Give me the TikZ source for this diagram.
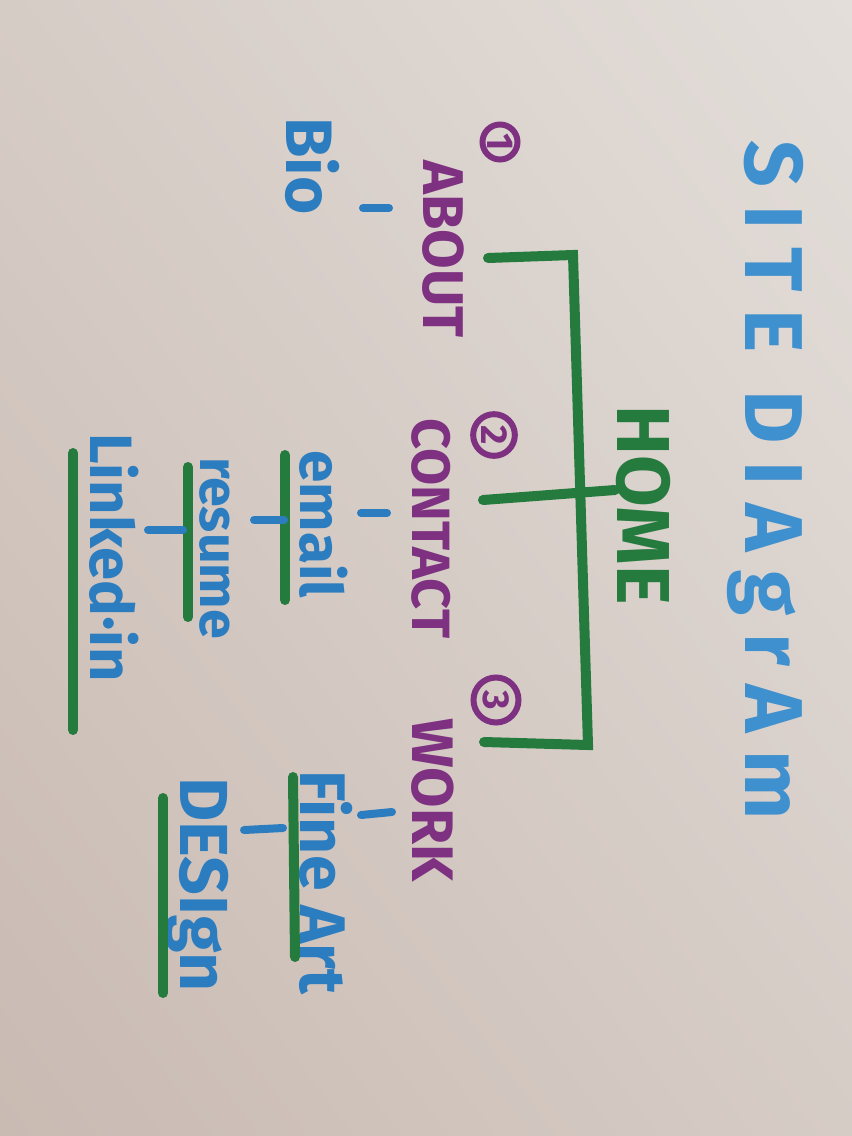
\documentclass[tikz,border=0pt]{standalone}
\usepackage{fontspec}
\setmainfont{Fira Sans}
\usetikzlibrary{calc}
\usetikzlibrary{shadings}
\definecolor{paperlt}{HTML}{E3DEDA}
\definecolor{papermd}{HTML}{D6CCC6}
\definecolor{paperdk}{HTML}{C9BAB2}
\definecolor{titleblue}{HTML}{3F90CE}
\definecolor{subblue}{HTML}{2C7DC0}
\definecolor{pagepurple}{HTML}{7D3180}
\definecolor{treegreen}{HTML}{257A3E}
\newcommand{\fsz}[1]{\fontsize{#1}{#1}\selectfont\bfseries}

\begin{document}
\begin{tikzpicture}[
    x=0.3mm, y=-0.3mm,
    handtext/.style={rotate=-90, anchor=base west, inner sep=0pt},
    title text/.style={handtext, color=titleblue},
    page text/.style={handtext, color=pagepurple},
    sub text/.style={handtext, color=subblue},
    numring/.style={circle, draw=pagepurple, line width=1.8mm, text=pagepurple,
        rotate=-90, inner sep=0pt, font=\fsz{32}},
    tree line/.style={treegreen, line width=3mm, line cap=round},
    under line/.style={treegreen, line width=3mm, line cap=round},
    tick line/.style={subblue, line width=2.4mm, line cap=round}
    ]

    % paper
    \shade[upper left=papermd, upper right=paperlt, lower left=paperdk, lower right=papermd]
        (0,0) rectangle (852,1136);
    \useasboundingbox (0,0) rectangle (852,1136);

    % title and root
    \node[title text, font=\fsz{70}\addfontfeature{LetterSpace=22}] (title) at (745,140) {SITE DIAgrAm};
    \node[handtext, color=treegreen, font=\fsz{64}] (home) at (617,405) {HOME};

    % pages
    \node[page text, font=\fsz{49}] (about) at (423,160) {ABOUT};
    \node[page text, font=\fsz{46}] (contact) at (412,418) {CONTACT};
    \node[page text, font=\fsz{50}] (work) at (412,718) {WORK};
    \node[numring, minimum size=10.5mm] (num1) at (500,142) {1};
    \node[numring, minimum size=12.5mm] (num2) at (494,435) {2};
    \node[numring, minimum size=13.5mm] (num3) at (496,700) {3};

    % sub pages
    \node[sub text, font=\fsz{56}] (bio) at (286,117) {Bio};
    \node[sub text, font=\fsz{50}] (email) at (300,450) {email};
    \node[sub text, font=\fsz{46}] (resume) at (200,457) {resume};
    \node[sub text, font=\fsz{51}] (linkedin) at (90,433) {Linked·in};
    \node[sub text, font=\fsz{55}] (fineart) at (300,770) {Fine Art};
    \node[sub text, font=\fsz{58}] (design) at (180,777) {DESIgn};

    % bracket
    \coordinate (bartop) at (573,255);
    \coordinate (barbot) at (588,745);
    \coordinate (aboutend) at (488,258);
    \coordinate (contactend) at (483,500);
    \coordinate (workend) at (484,742);
    \coordinate (homestub) at (615,490);
    \draw[tree line] (aboutend) -- (bartop) -- (barbot) -- (workend);
    \draw[tree line] (contactend) -- (homestub);

    % underlines
    \coordinate (u1a) at (285,455);  \coordinate (u1b) at (285,600);
    \coordinate (u2a) at (188,467);  \coordinate (u2b) at (188,617);
    \coordinate (u3a) at (73,453);   \coordinate (u3b) at (73,730);
    \coordinate (u4a) at (293,777);  \coordinate (u4b) at (295,957);
    \coordinate (u5a) at (163,798);  \coordinate (u5b) at (163,993);
    \draw[under line] (u1a) -- (u1b);
    \draw[under line] (u2a) -- (u2b);
    \draw[under line] (u3a) -- (u3b);
    \draw[under line] (u4a) -- (u4b);
    \draw[under line] (u5a) -- (u5b);

    % ticks
    \draw[tick line] (363,208) -- (389,208);
    \draw[tick line] (361,513) -- (387,513);
    \draw[tick line] (254,520) -- (284,520);
    \draw[tick line] (148,530) -- (183,530);
    \draw[tick line] (361,815) -- (392,812);
    \draw[tick line] (244,830) -- (283,828);

\end{tikzpicture}
\end{document}
